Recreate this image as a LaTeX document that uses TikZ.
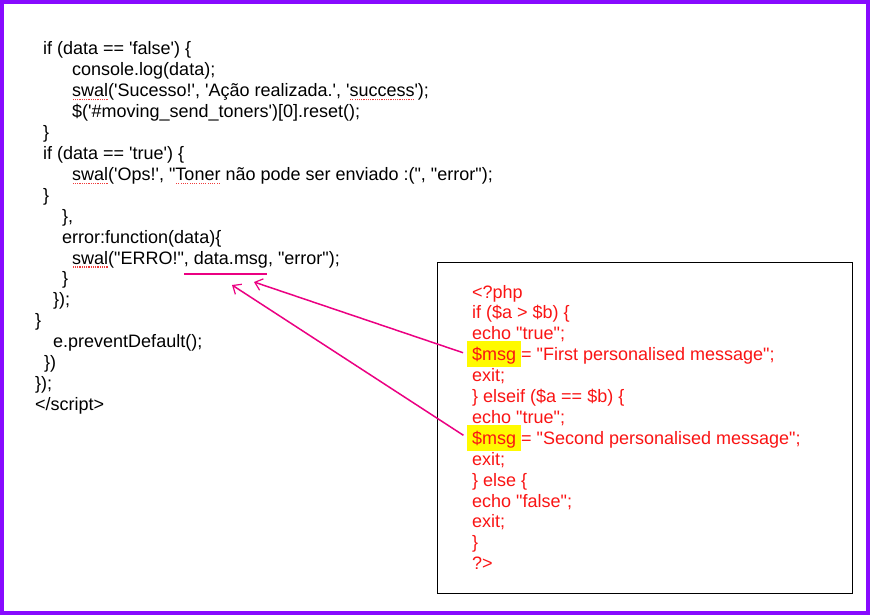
\documentclass[tikz,border=0pt]{standalone}
\usepackage{fontspec}
\newfontfamily\codefont{Liberation Sans}
\usetikzlibrary{arrows.meta}
\definecolor{frame}{RGB}{135,10,255}
\definecolor{pinkline}{RGB}{235,0,130}
\definecolor{phpred}{RGB}{250,20,20}
\definecolor{spell}{RGB}{240,60,60}
\definecolor{hlyellow}{RGB}{255,250,0}
\newcommand\spellmark[1]{\leavevmode\setbox0\hbox{#1}\rlap{\raisebox{-3.5pt}{\color{spell}\hbox to \wd0{\xleaders\hbox to 2.2pt{\hss\rule{1.2pt}{1.2pt}\hss}\hfill}}}\box0\relax}
\tikzset{
  codeline/.style={anchor=base west, inner sep=0pt, font=\codefont\fontsize{18}{21}\selectfont, text=black},
  phpline/.style={codeline, text=phpred},
  hlbox/.style={fill=hlyellow, draw=none, minimum width=54pt, minimum height=26pt, inner sep=0pt},
  pointer/.style={draw=pinkline, line width=1.5pt, -{Straight Barb[length=7pt,width=12pt,line width=1.2pt]}, shorten <=4pt},
}
\begin{document}
\begin{tikzpicture}[x=1pt,y=-1pt]
\useasboundingbox (0,0) rectangle (870,615);
\fill[white] (0,0) rectangle (870,615);
\draw[frame, line width=4pt] (2,2) rectangle (868,613);
% PHP box
\draw[black, line width=1pt] (437,262) rectangle (852,593);
\node[hlbox] (hl1) at (494,354) {};
\node[hlbox] (hl2) at (494,437.5) {};
% JS code
\node[codeline] (L0) at (43,55) {if (data == 'false') \{};
\node[codeline] (L1) at (72,75.9) {console.log(data);};
\node[codeline] (L2) at (72,96.8) {\spellmark{swal}('Sucesso!', 'Ação realizada.', '\spellmark{success}');};
\node[codeline] (L3) at (72,117.7) {\$('\#moving\_send\_toners')[0].reset();};
\node[codeline] (L4) at (43,138.6) {\}};
\node[codeline] (L5) at (43,159.5) {if (data == 'true') \{};
\node[codeline] (L6) at (72,180.4) {\spellmark{swal}('Ops!', "\spellmark{Toner} não pode ser enviado :(", "error");};
\node[codeline] (L7) at (43,201.3) {\}};
\node[codeline] (L8) at (62,222.2) {\},};
\node[codeline] (L9) at (62,243.1) {error:function(data)\{};
\node[codeline] (L10) at (72,264) {\spellmark{swal}("ERRO!", data.msg, "error");};
\node[codeline] (L11) at (62,284.9) {\}};
\node[codeline] (L12) at (53,305.8) {\});};
\node[codeline] (L13) at (35,326.7) {\}};
\node[codeline] (L14) at (53,347.6) {e.preventDefault();};
\node[codeline] (L15) at (44,368.5) {\})};
\node[codeline] (L16) at (35,389.4) {\});};
\node[codeline] (L17) at (35,410.3) {</script>};
% PHP code
\node[phpline] (R0) at (472,298) {<?php};
\node[phpline] (R1) at (472,318.9) {if (\$a > \$b) \{};
\node[phpline] (R2) at (472,339.8) {echo "true";};
\node[phpline] (R3) at (472,360.7) {\$msg = "First personalised message";};
\node[phpline] (R4) at (472,381.6) {exit;};
\node[phpline] (R5) at (472,402.5) {\} elseif (\$a == \$b) \{};
\node[phpline] (R6) at (472,423.4) {echo "true";};
\node[phpline] (R7) at (472,444.3) {\$msg = "Second personalised message";};
\node[phpline] (R8) at (472,465.2) {exit;};
\node[phpline] (R9) at (472,486.1) {\} else \{};
\node[phpline] (R10) at (472,507) {echo "false";};
\node[phpline] (R11) at (472,527.9) {exit;};
\node[phpline] (R12) at (472,548.8) {\}};
\node[phpline] (R13) at (472,569.7) {?>};
% underline and pointers
\coordinate (u1) at (184,274);
\coordinate (u2) at (267,274);
\draw[pinkline, line width=2.8pt] (u1) -- (u2);
\coordinate (t1) at (254,282);
\coordinate (t2) at (232,285);
\draw[pointer] (hl1.west) -- (t1);
\draw[pointer] (hl2.west) -- (t2);
\end{tikzpicture}
\end{document}
